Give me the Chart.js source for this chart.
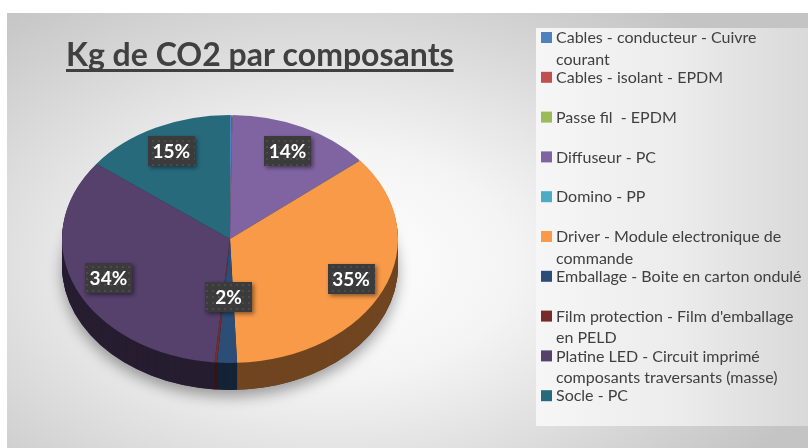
<!DOCTYPE html>
<html>
<head>
<meta charset="utf-8">
<script src="https://cdn.jsdelivr.net/npm/chart.js@4/dist/chart.umd.min.js"></script>
<style>
  html, body { margin: 0; padding: 0; background: #fff; }
  #wrap { position: relative; width: 808px; height: 448px; overflow: hidden; }
  #frame {
    position: absolute; left: 7px; top: 13px; width: 820px; height: 450px;
    background: radial-gradient(ellipse 520px 330px at 325px 250px, #ffffff 0%, #f4f4f4 35%, #d6d6d6 75%, #c4c4c4 100%);
  }
  #legendbox {
    position: absolute; left: 536px; top: 28px; width: 280px; height: 398px;
    background: linear-gradient(to right, #f6f6f6 0%, #ececec 50%, #d8d8d8 100%);
  }
  canvas { position: absolute; left: 0; top: 0; }
</style>
</head>
<body>
<div id="wrap">
  <div id="frame"></div>
  <div id="legendbox"></div>
  <canvas id="chart" width="808" height="448"></canvas>
</div>
<script>
var chart_title = 'Kg de CO2 par composants';

var categories = [
    ['Cables - conducteur - Cuivre', 'courant'],
    ['Cables - isolant - EPDM'],
    ['Passe fil  - EPDM'],
    ['Diffuseur - PC'],
    ['Domino - PP'],
    ['Driver - Module electronique de', 'commande'],
    ['Emballage - Boite en carton ondulé'],
    ["Film protection - Film d'emballage", 'en PELD'],
    ['Platine LED - Circuit imprimé', 'composants traversants (masse)'],
    ['Socle - PC']
];

// share of kg CO2 per component, in %
var shares = [0.15, 0.05, 0.03, 13.8, 0.07, 35.2, 1.9, 0.25, 33.9, 14.6];

var colors = ['#4f81bd', '#c0504d', '#9bbb59', '#8064a2', '#4bacc6',
              '#f89a48', '#2c4d75', '#772c2a', '#56406c', '#276a7c'];

var text_color = '#404040';
var squash = 0.738;   // vertical tilt of the pie
var depth = 27;       // pie thickness in px

function darken(hex, f) {
    var n = parseInt(hex.slice(1), 16);
    var r = Math.round(((n >> 16) & 255) * f);
    var g = Math.round(((n >> 8) & 255) * f);
    var b = Math.round((n & 255) * f);
    return 'rgb(' + r + ',' + g + ',' + b + ')';
}

// dotted texture for the value boxes
var pat_canvas = document.createElement('canvas');
pat_canvas.width = 6; pat_canvas.height = 6;
var pctx = pat_canvas.getContext('2d');
pctx.fillStyle = '#3b3b3b';
pctx.fillRect(0, 0, 6, 6);
pctx.fillStyle = '#4b4b4b';
pctx.fillRect(2, 2, 2, 2);

var tiltPlugin = {
    id: 'tilt',
    beforeDatasetsDraw: function (chart) {
        var ctx = chart.ctx;
        var arcs = chart.getDatasetMeta(0).data;
        var cx = arcs[0].x, cy = arcs[0].y, R = arcs[0].outerRadius;
        ctx.save();
        ctx.translate(cx, cy);
        ctx.scale(1, squash);
        ctx.translate(-cx, -cy);

        // shadow under the pie
        ctx.save();
        ctx.shadowColor = 'rgba(0,0,0,0.35)';
        ctx.shadowBlur = 14;
        ctx.shadowOffsetY = 7;
        ctx.fillStyle = '#333';
        ctx.beginPath();
        ctx.arc(cx, cy + depth / squash, R, 0, Math.PI * 2);
        ctx.fill();
        ctx.restore();

        // side walls
        for (var d = depth; d >= 1; d--) {
            var oy = cy + d / squash;
            arcs.forEach(function (a, i) {
                ctx.beginPath();
                ctx.moveTo(cx, oy);
                ctx.arc(cx, oy, R, a.startAngle, a.endAngle);
                ctx.closePath();
                ctx.fillStyle = darken(colors[i], 0.45);
                ctx.fill();
            });
        }
    },
    afterDatasetsDraw: function (chart) {
        var ctx = chart.ctx;
        ctx.restore();

        var arcs = chart.getDatasetMeta(0).data;
        var total = shares.reduce(function (s, v) { return s + v; }, 0);
        ctx.font = 'bold 19px Lato';
        ctx.textAlign = 'center';
        ctx.textBaseline = 'middle';
        arcs.forEach(function (a, i) {
            var pct = Math.round(shares[i] / total * 100);
            if (pct < 1) return;
            var mid = (a.startAngle + a.endAngle) / 2;
            var rf = pct < 5 ? 0.47 : 0.79;
            var px = a.x + Math.cos(mid) * a.outerRadius * rf;
            var py = a.y + Math.sin(mid) * a.outerRadius * rf * squash;
            ctx.save();
            ctx.shadowColor = 'rgba(0,0,0,0.45)';
            ctx.shadowBlur = 4;
            ctx.shadowOffsetX = 2;
            ctx.shadowOffsetY = 2;
            ctx.fillStyle = ctx.createPattern(pat_canvas, 'repeat');
            ctx.fillRect(Math.round(px - 23.5), Math.round(py - 15), 47, 30);
            ctx.restore();
            ctx.fillStyle = '#ffffff';
            ctx.fillText(pct + '%', px, py + 1);
        });
    },
    afterDraw: function (chart) {
        var ctx = chart.ctx;
        // title
        ctx.save();
        ctx.fillStyle = text_color;
        ctx.font = 'bold 32px Lato';
        ctx.textAlign = 'left';
        ctx.textBaseline = 'alphabetic';
        ctx.fillText(chart_title, 66, 66);
        var w = ctx.measureText(chart_title).width;
        ctx.fillRect(66, 69, w, 3);

        // legend
        ctx.font = '16px Lato';
        ctx.textBaseline = 'middle';
        categories.forEach(function (lines, i) {
            var y = 38 + i * 39.8;
            ctx.fillStyle = colors[i];
            ctx.fillRect(541, y - 6, 11, 11);
            ctx.fillStyle = text_color;
            lines.forEach(function (t, j) {
                ctx.fillText(t, 556, y + j * 21.5);
            });
        });
        ctx.restore();
    }
};

var cfg = {
    type: 'pie',
    data: {
        labels: categories,
        datasets: [{
            data: shares,
            backgroundColor: colors,
            borderWidth: 0
        }]
    },
    options: {
        responsive: false,
        animation: false,
        events: [],
        layout: {
            padding: { left: 62, right: 410, top: 71, bottom: 41 }
        },
        plugins: {
            legend: { display: false },
            title: { display: false },
            tooltip: { enabled: false }
        }
    },
    plugins: [tiltPlugin]
};

var chart = new Chart(document.getElementById('chart'), cfg);
</script>
</body>
</html>
